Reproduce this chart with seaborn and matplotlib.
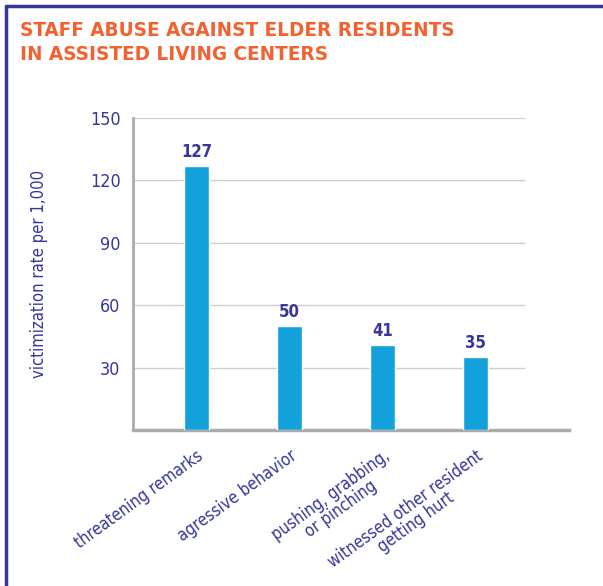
import matplotlib
matplotlib.use("Agg")
import matplotlib.pyplot as plt
from matplotlib.lines import Line2D
from matplotlib import font_manager
import seaborn as sns
import pandas as pd

# chart data
categories = [
    "threatening remarks",
    "agressive behavior",
    "pushing, grabbing,\nor pinching",
    "witnessed other resident\ngetting hurt",
]
rates = [127, 50, 41, 35]
y_ticks = [30, 60, 90, 120, 150]

df = pd.DataFrame({"category": categories, "rate": rates})

sns.set_style("white")
names = {f.name for f in font_manager.fontManager.ttflist}
condensed = [f for f in font_manager.fontManager.ttflist
             if f.name == "DejaVu Sans" and f.stretch == "condensed"]
if "Liberation Sans Narrow" in names:
    plt.rcParams["font.family"] = ["Liberation Sans Narrow", "DejaVu Sans"]
    scale = 1.0
elif condensed:
    plt.rcParams["font.family"] = ["DejaVu Sans"]
    plt.rcParams["font.stretch"] = "condensed"
    scale = 0.92
else:
    plt.rcParams["font.family"] = ["DejaVu Sans"]
    scale = 0.85

NAVY = "#35379A"
ORANGE = "#F26130"
BAR = "#13A1DB"
GRAY = "#ABABAB"

fig = plt.figure(figsize=(6.03, 5.86), dpi=100)
ax = fig.add_axes([133 / 603, 1 - 430 / 586, (569 - 133) / 603, (430 - 118) / 586])

sns.barplot(data=df, x="category", y="rate", color=BAR, width=0.27,
            saturation=1, ax=ax, zorder=3)

ax.set_ylim(0, 150)
ax.set_xlim(-0.68, 4.0)

# horizontal grid lines (stop short of the axis end)
for v in y_ticks:
    ax.hlines(v, -0.68, 3.53, color="#CFCFCF", lw=1.0, zorder=1)

# value labels
for i, v in enumerate(rates):
    ax.text(i, v + 2.5, str(v), ha="center", va="bottom", color=NAVY,
            fontsize=13 * scale, fontweight="bold")

for s in ["top", "right"]:
    ax.spines[s].set_visible(False)
ax.spines["left"].set_color(GRAY)
ax.spines["left"].set_linewidth(2)
ax.spines["bottom"].set_color(GRAY)
ax.spines["bottom"].set_linewidth(2.5)

ax.set_yticks(y_ticks)
ax.set_yticklabels([str(v) for v in y_ticks])
ax.tick_params(axis="y", length=0, pad=9, labelsize=14 * scale, labelcolor=NAVY)

ax.set_xticks(range(len(categories)))
ax.set_xticklabels(categories, rotation=36, ha="right",
                   rotation_mode="anchor", multialignment="center",
                   linespacing=0.95)
ax.tick_params(axis="x", which="major", length=0, pad=12,
               labelsize=13 * scale, labelcolor=NAVY)
ax.set_xticks([0.5, 1.52, 2.54], minor=True)
ax.tick_params(axis="x", which="minor", length=8, width=1, color=GRAY,
               direction="out")

ax.set_xlabel("")
ax.set_ylabel("victimization rate per 1,000", color=NAVY, fontsize=13 * scale)
ax.yaxis.set_label_coords(-0.195, 0.5)

# title
fig.text(20 / 603, 1 - 21 / 586,
         "STAFF ABUSE AGAINST ELDER RESIDENTS\nIN ASSISTED LIVING CENTERS",
         ha="left", va="top", color=ORANGE, fontsize=16 * scale,
         fontweight="bold", linespacing=1.3)

# frame lines on top and left
fig.add_artist(Line2D([6 / 603, 1], [1 - 6 / 586, 1 - 6 / 586],
                      transform=fig.transFigure, color="#34369A", lw=2.5))
fig.add_artist(Line2D([6 / 603, 6 / 603], [0, 1 - 6 / 586],
                      transform=fig.transFigure, color="#34369A", lw=2.5))

fig.savefig("out.png", dpi=100)
